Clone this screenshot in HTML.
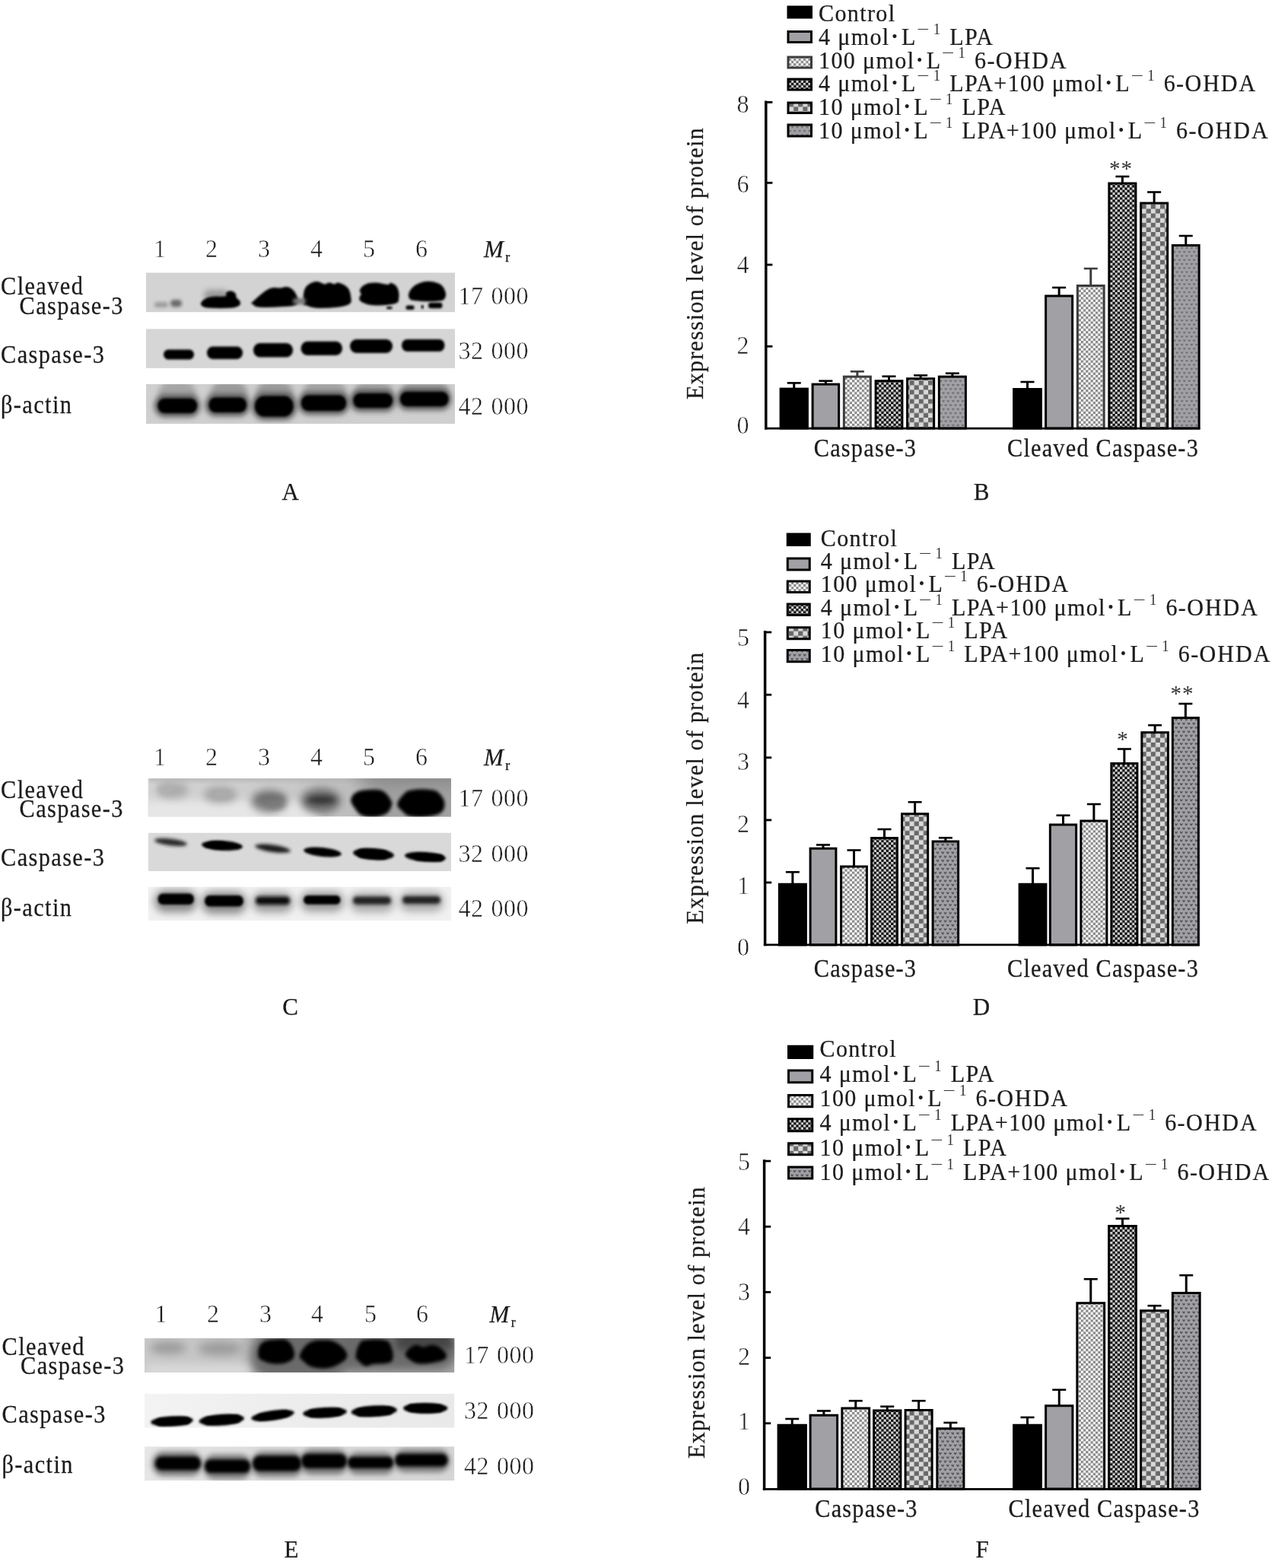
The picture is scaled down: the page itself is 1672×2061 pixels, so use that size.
<!DOCTYPE html>
<html lang="en"><head><meta charset="utf-8"><title>Figure</title>
<style>
html,body{margin:0;padding:0;background:#fff;}
body{width:1672px;height:2061px;overflow:hidden;}
svg{display:block;}
text{font-family:"Liberation Serif","Noto Serif CJK SC",serif;fill:#1c1c1c;}
.t{stroke:#1c1c1c;stroke-width:0.25px;}
.d{stroke:#fff;stroke-width:0.5px;paint-order:fill stroke;fill:#1c1c1c;}
.s{fill:#333;stroke:none;}
.i{font-style:italic;}
</style></head><body>
<svg width="1672" height="2061" viewBox="0 0 1672 2061">
<defs>
<pattern id="p3" width="6.4" height="6.4" patternUnits="userSpaceOnUse"><rect width="6.4" height="6.4" fill="#fff"/><rect x="0" y="0" width="3.2" height="3.2" fill="#858585"/><rect x="3.2" y="3.2" width="3.2" height="3.2" fill="#858585"/></pattern>
<pattern id="p4" width="6.4" height="6.4" patternUnits="userSpaceOnUse"><rect width="6.4" height="6.4" fill="#000"/><rect x="0" y="0" width="3.2" height="3.2" fill="#d4d4d4"/><rect x="3.2" y="3.2" width="3.2" height="3.2" fill="#d4d4d4"/></pattern>
<pattern id="p5" width="12.2" height="12.2" patternUnits="userSpaceOnUse"><rect width="12.2" height="12.2" fill="#d9d9d9"/><rect x="0" y="0" width="6.1" height="6.1" fill="#686868"/><rect x="6.1" y="6.1" width="6.1" height="6.1" fill="#686868"/></pattern>
<pattern id="p6" width="6.4" height="10.6" patternUnits="userSpaceOnUse"><rect width="6.4" height="10.6" fill="#a1a1a5"/><path d="M0.2 1.6 L1.6 3.2 L3 1.6 M3.4 6.9 L4.8 8.5 L6.2 6.9" fill="none" stroke="#5c5c61" stroke-width="1.15"/></pattern>
<pattern id="p6d" width="6.6" height="10.6" patternUnits="userSpaceOnUse"><rect width="6.6" height="10.6" fill="#a1a1a5"/><path d="M0.1 1.4 L1.7 3.3 L3.3 1.4 M3.4 6.7 L5 8.6 L6.6 6.7" fill="none" stroke="#3e3e42" stroke-width="1.25"/></pattern>
<filter id="b1" x="-20%" y="-50%" width="140%" height="200%"><feGaussianBlur stdDeviation="1.5"/></filter>
<filter id="b2" x="-20%" y="-50%" width="140%" height="200%"><feGaussianBlur stdDeviation="2.2"/></filter>
<filter id="b3" x="-20%" y="-50%" width="140%" height="200%"><feGaussianBlur stdDeviation="3.5"/></filter>
<filter id="b9" x="-40%" y="-150%" width="180%" height="400%"><feGaussianBlur stdDeviation="11"/></filter>
<filter id="b5" x="-30%" y="-80%" width="160%" height="260%"><feGaussianBlur stdDeviation="5.5"/></filter>
</defs>
<rect width="1672" height="2061" fill="#fff"/>

<rect x="1036.0" y="9.0" width="30.5" height="14.0" fill="#000" stroke="#000" stroke-width="3"/>
<text transform="translate(1076 27.5) scale(0.94 1)" class="t" font-size="32" letter-spacing="1.44" text-anchor="start" >Control</text>
<rect x="1036.0" y="41.5" width="30.5" height="14" fill="#a1a1a5" stroke="#000" stroke-width="3"/>
<text transform="translate(1076 59.25) scale(0.94 1)" class="t" font-size="32" letter-spacing="1.44" text-anchor="start" >4 μmol<tspan font-size="21" dx="3" dy="-4">•</tspan><tspan dx="4.5" dy="4">L</tspan><tspan dy="-14" dx="0.5" font-size="20" class="s" textLength="20" lengthAdjust="spacingAndGlyphs">−</tspan><tspan font-size="20" class="s" dx="3">1</tspan><tspan dy="14" dx="2"> </tspan>LPA</text>
<rect x="1036.0" y="75.0" width="30.5" height="14.0" fill="url(#p3)" stroke="#3c3c3c" stroke-width="3"/>
<text transform="translate(1076 90.0) scale(0.94 1)" class="t" font-size="32" letter-spacing="1.44" text-anchor="start" >100 μmol<tspan font-size="21" dx="3" dy="-4">•</tspan><tspan dx="4.5" dy="4">L</tspan><tspan dy="-14" dx="0.5" font-size="20" class="s" textLength="20" lengthAdjust="spacingAndGlyphs">−</tspan><tspan font-size="20" class="s" dx="3">1</tspan><tspan dy="14" dx="2"> </tspan>6-<tspan letter-spacing="2.1">OHDA</tspan></text>
<rect x="1036.0" y="104.0" width="30.5" height="14.0" fill="url(#p4)" stroke="#000" stroke-width="3"/>
<text transform="translate(1076 120.0) scale(0.94 1)" class="t" font-size="32" letter-spacing="1.44" text-anchor="start" >4 μmol<tspan font-size="21" dx="3" dy="-4">•</tspan><tspan dx="4.5" dy="4">L</tspan><tspan dy="-14" dx="0.5" font-size="20" class="s" textLength="20" lengthAdjust="spacingAndGlyphs">−</tspan><tspan font-size="20" class="s" dx="3">1</tspan><tspan dy="14" dx="2"> </tspan>LPA+100 μmol<tspan font-size="21" dx="3" dy="-4">•</tspan><tspan dx="4.5" dy="4">L</tspan><tspan dy="-14" dx="0.5" font-size="20" class="s" textLength="20" lengthAdjust="spacingAndGlyphs">−</tspan><tspan font-size="20" class="s" dx="3">1</tspan><tspan dy="14" dx="2"> </tspan>6-<tspan letter-spacing="2.1">OHDA</tspan></text>
<rect x="1036.0" y="135.0" width="30.5" height="13.5" fill="url(#p5)" stroke="#000" stroke-width="3"/>
<text transform="translate(1076 151.25) scale(0.94 1)" class="t" font-size="32" letter-spacing="1.44" text-anchor="start" >10 μmol<tspan font-size="21" dx="3" dy="-4">•</tspan><tspan dx="4.5" dy="4">L</tspan><tspan dy="-14" dx="0.5" font-size="20" class="s" textLength="20" lengthAdjust="spacingAndGlyphs">−</tspan><tspan font-size="20" class="s" dx="3">1</tspan><tspan dy="14" dx="2"> </tspan>LPA</text>
<rect x="1036.0" y="164.0" width="30.5" height="15.0" fill="url(#p6)" stroke="#000" stroke-width="3"/>
<text transform="translate(1076 181.75) scale(0.94 1)" class="t" font-size="32" letter-spacing="1.44" text-anchor="start" >10 μmol<tspan font-size="21" dx="3" dy="-4">•</tspan><tspan dx="4.5" dy="4">L</tspan><tspan dy="-14" dx="0.5" font-size="20" class="s" textLength="20" lengthAdjust="spacingAndGlyphs">−</tspan><tspan font-size="20" class="s" dx="3">1</tspan><tspan dy="14" dx="2"> </tspan>LPA+100 μmol<tspan font-size="21" dx="3" dy="-4">•</tspan><tspan dx="4.5" dy="4">L</tspan><tspan dy="-14" dx="0.5" font-size="20" class="s" textLength="20" lengthAdjust="spacingAndGlyphs">−</tspan><tspan font-size="20" class="s" dx="3">1</tspan><tspan dy="14" dx="2"> </tspan>6-<tspan letter-spacing="2.1">OHDA</tspan></text>
<rect x="1026.1" y="511.1" width="35.30000000000018" height="51.89999999999998" fill="#000" stroke="#000" stroke-width="3"/>
<path d="M1043.75 510.6 V503.4" stroke="#000" stroke-width="3" fill="none"/><path d="M1034.75 503.4 H1052.75" stroke="#000" stroke-width="2.6" fill="none"/>
<rect x="1068.1" y="505.1" width="34.55000000000018" height="57.89999999999998" fill="#a1a1a5" stroke="#000" stroke-width="3"/>
<path d="M1085.375 504.6 V500.7" stroke="#000" stroke-width="3" fill="none"/><path d="M1076.375 500.7 H1094.375" stroke="#000" stroke-width="2.6" fill="none"/>
<rect x="1109.35" y="495.1" width="35.05000000000018" height="67.89999999999998" fill="url(#p3)" stroke="#3c3c3c" stroke-width="3"/>
<path d="M1126.875 494.6 V488.3" stroke="#3c3c3c" stroke-width="3" fill="none"/><path d="M1117.875 488.3 H1135.875" stroke="#3c3c3c" stroke-width="2.6" fill="none"/>
<rect x="1151.1" y="500.7" width="34.80000000000018" height="62.30000000000001" fill="url(#p4)" stroke="#000" stroke-width="3"/>
<path d="M1168.5 500.2 V494.7" stroke="#000" stroke-width="3" fill="none"/><path d="M1159.5 494.7 H1177.5" stroke="#000" stroke-width="2.6" fill="none"/>
<rect x="1192.6" y="497.7" width="35.05000000000018" height="65.30000000000001" fill="url(#p5)" stroke="#000" stroke-width="3"/>
<path d="M1210.125 497.2 V493.4" stroke="#000" stroke-width="3" fill="none"/><path d="M1201.125 493.4 H1219.125" stroke="#000" stroke-width="2.6" fill="none"/>
<rect x="1234.35" y="495.1" width="35.05000000000018" height="67.89999999999998" fill="url(#p6)" stroke="#000" stroke-width="3"/>
<path d="M1251.875 494.6 V490.7" stroke="#000" stroke-width="3" fill="none"/><path d="M1242.875 490.7 H1260.875" stroke="#000" stroke-width="2.6" fill="none"/>
<rect x="1332.6" y="511.5" width="35.80000000000018" height="51.5" fill="#000" stroke="#000" stroke-width="3"/>
<path d="M1350.5 511 V502" stroke="#000" stroke-width="3" fill="none"/><path d="M1341.5 502 H1359.5" stroke="#000" stroke-width="2.6" fill="none"/>
<rect x="1374.6" y="389.0" width="35.05000000000018" height="174.0" fill="#a1a1a5" stroke="#000" stroke-width="3"/>
<path d="M1392.125 388.5 V378" stroke="#000" stroke-width="3" fill="none"/><path d="M1383.125 378 H1401.125" stroke="#000" stroke-width="2.6" fill="none"/>
<rect x="1416.35" y="375.5" width="34.80000000000018" height="187.5" fill="url(#p3)" stroke="#3c3c3c" stroke-width="3"/>
<path d="M1433.75 375 V353" stroke="#3c3c3c" stroke-width="3" fill="none"/><path d="M1424.75 353 H1442.75" stroke="#3c3c3c" stroke-width="2.6" fill="none"/>
<rect x="1457.85" y="241.0" width="35.05000000000018" height="322.0" fill="url(#p4)" stroke="#000" stroke-width="3"/>
<path d="M1475.375 240.5 V232" stroke="#000" stroke-width="3" fill="none"/><path d="M1466.375 232 H1484.375" stroke="#000" stroke-width="2.6" fill="none"/>
<rect x="1499.6" y="267.0" width="35.05000000000018" height="296.0" fill="url(#p5)" stroke="#000" stroke-width="3"/>
<path d="M1517.125 266.5 V252.5" stroke="#000" stroke-width="3" fill="none"/><path d="M1508.125 252.5 H1526.125" stroke="#000" stroke-width="2.6" fill="none"/>
<rect x="1541.35" y="322.5" width="34.80000000000018" height="240.5" fill="url(#p6)" stroke="#000" stroke-width="3"/>
<path d="M1558.75 322 V310" stroke="#000" stroke-width="3" fill="none"/><path d="M1549.75 310 H1567.75" stroke="#000" stroke-width="2.6" fill="none"/>
<path d="M1006.8 132.5 V564.6" stroke="#000" stroke-width="3.5" fill="none"/><path d="M1005.05 563.2 H1577.3" stroke="#000" stroke-width="2.8" fill="none"/>
<text transform="translate(976.5 570.3) scale(0.93 1)" class="d" font-size="34.5" letter-spacing="0.00" text-anchor="middle" >0</text>
<path d="M1006.8 455.3 H1015.4" stroke="#000" stroke-width="2.8" fill="none"/>
<text transform="translate(976.5 464.5) scale(0.93 1)" class="d" font-size="34.5" letter-spacing="0.00" text-anchor="middle" >2</text>
<path d="M1006.8 348 H1015.4" stroke="#000" stroke-width="2.8" fill="none"/>
<text transform="translate(976.5 358.8) scale(0.93 1)" class="d" font-size="34.5" letter-spacing="0.00" text-anchor="middle" >4</text>
<path d="M1006.8 240.3 H1015.4" stroke="#000" stroke-width="2.8" fill="none"/>
<text transform="translate(976.5 253.2) scale(0.93 1)" class="d" font-size="34.5" letter-spacing="0.00" text-anchor="middle" >6</text>
<path d="M1006.8 134.4 H1015.4" stroke="#000" stroke-width="2.8" fill="none"/>
<text transform="translate(976.5 148.3) scale(0.93 1)" class="d" font-size="34.5" letter-spacing="0.00" text-anchor="middle" >8</text>
<text transform="translate(923.9 346.2) rotate(-90)" class="t" font-size="30.5" letter-spacing="1.05" text-anchor="middle">Expression level of protein</text>
<text transform="translate(1137.5 600) scale(0.92 1)" class="t" font-size="33" letter-spacing="1.30" text-anchor="middle" >Caspase-3</text>
<text transform="translate(1450 600) scale(0.92 1)" class="t" font-size="33" letter-spacing="1.30" text-anchor="middle" >Cleaved Caspase-3</text>
<text transform="translate(1473.5 231.4) scale(1 1)" class="s" font-size="29" letter-spacing="1.00" text-anchor="middle" >**</text>
<rect x="1035.25" y="702.0" width="29.0" height="14.5" fill="#000" stroke="#000" stroke-width="3"/>
<text transform="translate(1078.75 717.5) scale(0.94 1)" class="t" font-size="32" letter-spacing="1.44" text-anchor="start" >Control</text>
<rect x="1035.25" y="734.0" width="29.0" height="15.0" fill="#a1a1a5" stroke="#000" stroke-width="3"/>
<text transform="translate(1078.75 747.5) scale(0.94 1)" class="t" font-size="32" letter-spacing="1.44" text-anchor="start" >4 μmol<tspan font-size="21" dx="3" dy="-4">•</tspan><tspan dx="4.5" dy="4">L</tspan><tspan dy="-14" dx="0.5" font-size="20" class="s" textLength="20" lengthAdjust="spacingAndGlyphs">−</tspan><tspan font-size="20" class="s" dx="3">1</tspan><tspan dy="14" dx="2"> </tspan>LPA</text>
<rect x="1035.25" y="764.0" width="29.0" height="14.5" fill="url(#p3)" stroke="#000" stroke-width="3"/>
<text transform="translate(1078.75 778.0) scale(0.94 1)" class="t" font-size="32" letter-spacing="1.44" text-anchor="start" >100 μmol<tspan font-size="21" dx="3" dy="-4">•</tspan><tspan dx="4.5" dy="4">L</tspan><tspan dy="-14" dx="0.5" font-size="20" class="s" textLength="20" lengthAdjust="spacingAndGlyphs">−</tspan><tspan font-size="20" class="s" dx="3">1</tspan><tspan dy="14" dx="2"> </tspan>6-<tspan letter-spacing="2.1">OHDA</tspan></text>
<rect x="1035.25" y="794.0" width="29.0" height="14.5" fill="url(#p4)" stroke="#000" stroke-width="3"/>
<text transform="translate(1078.75 808.5) scale(0.94 1)" class="t" font-size="32" letter-spacing="1.44" text-anchor="start" >4 μmol<tspan font-size="21" dx="3" dy="-4">•</tspan><tspan dx="4.5" dy="4">L</tspan><tspan dy="-14" dx="0.5" font-size="20" class="s" textLength="20" lengthAdjust="spacingAndGlyphs">−</tspan><tspan font-size="20" class="s" dx="3">1</tspan><tspan dy="14" dx="2"> </tspan>LPA+100 μmol<tspan font-size="21" dx="3" dy="-4">•</tspan><tspan dx="4.5" dy="4">L</tspan><tspan dy="-14" dx="0.5" font-size="20" class="s" textLength="20" lengthAdjust="spacingAndGlyphs">−</tspan><tspan font-size="20" class="s" dx="3">1</tspan><tspan dy="14" dx="2"> </tspan>6-<tspan letter-spacing="2.1">OHDA</tspan></text>
<rect x="1035.25" y="824.75" width="29.0" height="15.0" fill="url(#p5)" stroke="#000" stroke-width="3"/>
<text transform="translate(1078.75 839.25) scale(0.94 1)" class="t" font-size="32" letter-spacing="1.44" text-anchor="start" >10 μmol<tspan font-size="21" dx="3" dy="-4">•</tspan><tspan dx="4.5" dy="4">L</tspan><tspan dy="-14" dx="0.5" font-size="20" class="s" textLength="20" lengthAdjust="spacingAndGlyphs">−</tspan><tspan font-size="20" class="s" dx="3">1</tspan><tspan dy="14" dx="2"> </tspan>LPA</text>
<rect x="1035.25" y="854.5" width="29.0" height="15.25" fill="url(#p6d)" stroke="#000" stroke-width="3"/>
<text transform="translate(1078.75 870.0) scale(0.94 1)" class="t" font-size="32" letter-spacing="1.44" text-anchor="start" >10 μmol<tspan font-size="21" dx="3" dy="-4">•</tspan><tspan dx="4.5" dy="4">L</tspan><tspan dy="-14" dx="0.5" font-size="20" class="s" textLength="20" lengthAdjust="spacingAndGlyphs">−</tspan><tspan font-size="20" class="s" dx="3">1</tspan><tspan dy="14" dx="2"> </tspan>LPA+100 μmol<tspan font-size="21" dx="3" dy="-4">•</tspan><tspan dx="4.5" dy="4">L</tspan><tspan dy="-14" dx="0.5" font-size="20" class="s" textLength="20" lengthAdjust="spacingAndGlyphs">−</tspan><tspan font-size="20" class="s" dx="3">1</tspan><tspan dy="14" dx="2"> </tspan>6-<tspan letter-spacing="2.1">OHDA</tspan></text>
<rect x="1024.35" y="1162.25" width="35.05000000000007" height="79.75" fill="#000" stroke="#000" stroke-width="3"/>
<path d="M1041.875 1161.75 V1146.25" stroke="#000" stroke-width="3" fill="none"/><path d="M1032.875 1146.25 H1050.875" stroke="#000" stroke-width="2.6" fill="none"/>
<rect x="1065.1" y="1115.25" width="33.80000000000018" height="126.75" fill="#a1a1a5" stroke="#000" stroke-width="3"/>
<path d="M1082.0 1114.75 V1110.5" stroke="#000" stroke-width="3" fill="none"/><path d="M1073.0 1110.5 H1091.0" stroke="#000" stroke-width="2.6" fill="none"/>
<rect x="1105.6" y="1139.0" width="33.80000000000018" height="103.0" fill="url(#p3)" stroke="#000" stroke-width="3"/>
<path d="M1122.5 1138.5 V1117.5" stroke="#000" stroke-width="3" fill="none"/><path d="M1113.5 1117.5 H1131.5" stroke="#000" stroke-width="2.6" fill="none"/>
<rect x="1145.6" y="1101.5" width="33.80000000000018" height="140.5" fill="url(#p4)" stroke="#000" stroke-width="3"/>
<path d="M1162.5 1101 V1090" stroke="#000" stroke-width="3" fill="none"/><path d="M1153.5 1090 H1171.5" stroke="#000" stroke-width="2.6" fill="none"/>
<rect x="1185.6" y="1069.75" width="34.05000000000018" height="172.25" fill="url(#p5)" stroke="#000" stroke-width="3"/>
<path d="M1202.625 1069.25 V1054.25" stroke="#000" stroke-width="3" fill="none"/><path d="M1193.625 1054.25 H1211.625" stroke="#000" stroke-width="2.6" fill="none"/>
<rect x="1226.1" y="1106.0" width="33.55000000000018" height="136.0" fill="url(#p6d)" stroke="#000" stroke-width="3"/>
<path d="M1242.875 1105.5 V1101.25" stroke="#000" stroke-width="3" fill="none"/><path d="M1233.875 1101.25 H1251.875" stroke="#000" stroke-width="2.6" fill="none"/>
<rect x="1340.1" y="1162.25" width="34.80000000000018" height="79.75" fill="#000" stroke="#000" stroke-width="3"/>
<path d="M1357.5 1161.75 V1141.25" stroke="#000" stroke-width="3" fill="none"/><path d="M1348.5 1141.25 H1366.5" stroke="#000" stroke-width="2.6" fill="none"/>
<rect x="1380.35" y="1084.0" width="34.30000000000018" height="158.0" fill="#a1a1a5" stroke="#000" stroke-width="3"/>
<path d="M1397.5 1083.5 V1071.75" stroke="#000" stroke-width="3" fill="none"/><path d="M1388.5 1071.75 H1406.5" stroke="#000" stroke-width="2.6" fill="none"/>
<rect x="1420.85" y="1079.0" width="34.05000000000018" height="163.0" fill="url(#p3)" stroke="#000" stroke-width="3"/>
<path d="M1437.875 1078.5 V1057" stroke="#000" stroke-width="3" fill="none"/><path d="M1428.875 1057 H1446.875" stroke="#000" stroke-width="2.6" fill="none"/>
<rect x="1460.85" y="1003.5" width="34.05000000000018" height="238.5" fill="url(#p4)" stroke="#000" stroke-width="3"/>
<path d="M1477.875 1003 V984.5" stroke="#000" stroke-width="3" fill="none"/><path d="M1468.875 984.5 H1486.875" stroke="#000" stroke-width="2.6" fill="none"/>
<rect x="1500.85" y="962.75" width="34.55000000000018" height="279.25" fill="url(#p5)" stroke="#000" stroke-width="3"/>
<path d="M1518.125 962.25 V953.25" stroke="#000" stroke-width="3" fill="none"/><path d="M1509.125 953.25 H1527.125" stroke="#000" stroke-width="2.6" fill="none"/>
<rect x="1541.35" y="943.5" width="34.05000000000018" height="298.5" fill="url(#p6d)" stroke="#000" stroke-width="3"/>
<path d="M1558.375 943 V925" stroke="#000" stroke-width="3" fill="none"/><path d="M1549.375 925 H1567.375" stroke="#000" stroke-width="2.6" fill="none"/>
<path d="M1005.6 829.1 V1243.3000000000002" stroke="#000" stroke-width="3.5" fill="none"/><path d="M1003.85 1241.9 H1576.5" stroke="#000" stroke-width="2.8" fill="none"/>
<text transform="translate(977 1256) scale(0.93 1)" class="d" font-size="34.5" letter-spacing="0.00" text-anchor="middle" >0</text>
<path d="M1005.6 1160 H1014.2" stroke="#000" stroke-width="2.8" fill="none"/>
<text transform="translate(977 1175) scale(0.93 1)" class="d" font-size="34.5" letter-spacing="0.00" text-anchor="middle" >1</text>
<path d="M1005.6 1077.9 H1014.2" stroke="#000" stroke-width="2.8" fill="none"/>
<text transform="translate(977 1093.7) scale(0.93 1)" class="d" font-size="34.5" letter-spacing="0.00" text-anchor="middle" >2</text>
<path d="M1005.6 995.8 H1014.2" stroke="#000" stroke-width="2.8" fill="none"/>
<text transform="translate(977 1012.3) scale(0.93 1)" class="d" font-size="34.5" letter-spacing="0.00" text-anchor="middle" >3</text>
<path d="M1005.6 913.2 H1014.2" stroke="#000" stroke-width="2.8" fill="none"/>
<text transform="translate(977 930.9) scale(0.93 1)" class="d" font-size="34.5" letter-spacing="0.00" text-anchor="middle" >4</text>
<path d="M1005.6 831 H1014.2" stroke="#000" stroke-width="2.8" fill="none"/>
<text transform="translate(977 849.3) scale(0.93 1)" class="d" font-size="34.5" letter-spacing="0.00" text-anchor="middle" >5</text>
<text transform="translate(923.9 1035.5) rotate(-90)" class="t" font-size="30.5" letter-spacing="1.05" text-anchor="middle">Expression level of protein</text>
<text transform="translate(1137.5 1283.75) scale(0.92 1)" class="t" font-size="33" letter-spacing="1.30" text-anchor="middle" >Caspase-3</text>
<text transform="translate(1450 1283.75) scale(0.92 1)" class="t" font-size="33" letter-spacing="1.30" text-anchor="middle" >Cleaved Caspase-3</text>
<text transform="translate(1476 981.4) scale(1 1)" class="s" font-size="29" letter-spacing="1.00" text-anchor="middle" >*</text>
<text transform="translate(1554 921.4) scale(1 1)" class="s" font-size="29" letter-spacing="1.00" text-anchor="middle" >**</text>
<rect x="1036.5" y="1375.25" width="31.25" height="15.25" fill="#000" stroke="#000" stroke-width="3"/>
<text transform="translate(1077.5 1388.75) scale(0.94 1)" class="t" font-size="32" letter-spacing="1.44" text-anchor="start" >Control</text>
<rect x="1036.5" y="1407.0" width="31.25" height="15.75" fill="#a1a1a5" stroke="#000" stroke-width="3"/>
<text transform="translate(1077.5 1421.75) scale(0.94 1)" class="t" font-size="32" letter-spacing="1.44" text-anchor="start" >4 μmol<tspan font-size="21" dx="3" dy="-4">•</tspan><tspan dx="4.5" dy="4">L</tspan><tspan dy="-14" dx="0.5" font-size="20" class="s" textLength="20" lengthAdjust="spacingAndGlyphs">−</tspan><tspan font-size="20" class="s" dx="3">1</tspan><tspan dy="14" dx="2"> </tspan>LPA</text>
<rect x="1036.5" y="1439.5" width="31.25" height="15.25" fill="url(#p3)" stroke="#000" stroke-width="3"/>
<text transform="translate(1077.5 1453.75) scale(0.94 1)" class="t" font-size="32" letter-spacing="1.44" text-anchor="start" >100 μmol<tspan font-size="21" dx="3" dy="-4">•</tspan><tspan dx="4.5" dy="4">L</tspan><tspan dy="-14" dx="0.5" font-size="20" class="s" textLength="20" lengthAdjust="spacingAndGlyphs">−</tspan><tspan font-size="20" class="s" dx="3">1</tspan><tspan dy="14" dx="2"> </tspan>6-<tspan letter-spacing="2.1">OHDA</tspan></text>
<rect x="1036.5" y="1470.75" width="31.25" height="16.0" fill="url(#p4)" stroke="#000" stroke-width="3"/>
<text transform="translate(1077.5 1485.5) scale(0.94 1)" class="t" font-size="32" letter-spacing="1.44" text-anchor="start" >4 μmol<tspan font-size="21" dx="3" dy="-4">•</tspan><tspan dx="4.5" dy="4">L</tspan><tspan dy="-14" dx="0.5" font-size="20" class="s" textLength="20" lengthAdjust="spacingAndGlyphs">−</tspan><tspan font-size="20" class="s" dx="3">1</tspan><tspan dy="14" dx="2"> </tspan>LPA+100 μmol<tspan font-size="21" dx="3" dy="-4">•</tspan><tspan dx="4.5" dy="4">L</tspan><tspan dy="-14" dx="0.5" font-size="20" class="s" textLength="20" lengthAdjust="spacingAndGlyphs">−</tspan><tspan font-size="20" class="s" dx="3">1</tspan><tspan dy="14" dx="2"> </tspan>6-<tspan letter-spacing="2.1">OHDA</tspan></text>
<rect x="1036.5" y="1502.75" width="31.25" height="15.0" fill="url(#p5)" stroke="#000" stroke-width="3"/>
<text transform="translate(1077.5 1518.5) scale(0.94 1)" class="t" font-size="32" letter-spacing="1.44" text-anchor="start" >10 μmol<tspan font-size="21" dx="3" dy="-4">•</tspan><tspan dx="4.5" dy="4">L</tspan><tspan dy="-14" dx="0.5" font-size="20" class="s" textLength="20" lengthAdjust="spacingAndGlyphs">−</tspan><tspan font-size="20" class="s" dx="3">1</tspan><tspan dy="14" dx="2"> </tspan>LPA</text>
<rect x="1036.5" y="1534.0" width="31.25" height="15.0" fill="url(#p6d)" stroke="#000" stroke-width="3"/>
<text transform="translate(1077.5 1551.0) scale(0.94 1)" class="t" font-size="32" letter-spacing="1.44" text-anchor="start" >10 μmol<tspan font-size="21" dx="3" dy="-4">•</tspan><tspan dx="4.5" dy="4">L</tspan><tspan dy="-14" dx="0.5" font-size="20" class="s" textLength="20" lengthAdjust="spacingAndGlyphs">−</tspan><tspan font-size="20" class="s" dx="3">1</tspan><tspan dy="14" dx="2"> </tspan>LPA+100 μmol<tspan font-size="21" dx="3" dy="-4">•</tspan><tspan dx="4.5" dy="4">L</tspan><tspan dy="-14" dx="0.5" font-size="20" class="s" textLength="20" lengthAdjust="spacingAndGlyphs">−</tspan><tspan font-size="20" class="s" dx="3">1</tspan><tspan dy="14" dx="2"> </tspan>6-<tspan letter-spacing="2.1">OHDA</tspan></text>
<rect x="1023.1" y="1873.25" width="36.30000000000007" height="83.75" fill="#000" stroke="#000" stroke-width="3"/>
<path d="M1041.25 1872.75 V1865" stroke="#000" stroke-width="3" fill="none"/><path d="M1032.25 1865 H1050.25" stroke="#000" stroke-width="2.6" fill="none"/>
<rect x="1065.1" y="1860.25" width="35.55000000000018" height="96.75" fill="#a1a1a5" stroke="#000" stroke-width="3"/>
<path d="M1082.875 1859.75 V1854.5" stroke="#000" stroke-width="3" fill="none"/><path d="M1073.875 1854.5 H1091.875" stroke="#000" stroke-width="2.6" fill="none"/>
<rect x="1106.85" y="1851.0" width="35.80000000000018" height="106.0" fill="url(#p3)" stroke="#000" stroke-width="3"/>
<path d="M1124.75 1850.5 V1841.25" stroke="#000" stroke-width="3" fill="none"/><path d="M1115.75 1841.25 H1133.75" stroke="#000" stroke-width="2.6" fill="none"/>
<rect x="1148.6" y="1854.0" width="35.30000000000018" height="103.0" fill="url(#p4)" stroke="#000" stroke-width="3"/>
<path d="M1166.25 1853.5 V1848.75" stroke="#000" stroke-width="3" fill="none"/><path d="M1157.25 1848.75 H1175.25" stroke="#000" stroke-width="2.6" fill="none"/>
<rect x="1190.1" y="1853.5" width="35.05000000000018" height="103.5" fill="url(#p5)" stroke="#000" stroke-width="3"/>
<path d="M1207.625 1853 V1841.25" stroke="#000" stroke-width="3" fill="none"/><path d="M1198.625 1841.25 H1216.625" stroke="#000" stroke-width="2.6" fill="none"/>
<rect x="1231.85" y="1877.75" width="35.05000000000018" height="79.25" fill="url(#p6d)" stroke="#000" stroke-width="3"/>
<path d="M1249.375 1877.25 V1870" stroke="#000" stroke-width="3" fill="none"/><path d="M1240.375 1870 H1258.375" stroke="#000" stroke-width="2.6" fill="none"/>
<rect x="1332.6" y="1873.25" width="35.80000000000018" height="83.75" fill="#000" stroke="#000" stroke-width="3"/>
<path d="M1350.5 1872.75 V1863" stroke="#000" stroke-width="3" fill="none"/><path d="M1341.5 1863 H1359.5" stroke="#000" stroke-width="2.6" fill="none"/>
<rect x="1374.6" y="1847.75" width="35.30000000000018" height="109.25" fill="#a1a1a5" stroke="#000" stroke-width="3"/>
<path d="M1392.25 1847.25 V1826.75" stroke="#000" stroke-width="3" fill="none"/><path d="M1383.25 1826.75 H1401.25" stroke="#000" stroke-width="2.6" fill="none"/>
<rect x="1415.85" y="1712.75" width="35.80000000000018" height="244.25" fill="url(#p3)" stroke="#000" stroke-width="3"/>
<path d="M1433.75 1712.25 V1681.25" stroke="#000" stroke-width="3" fill="none"/><path d="M1424.75 1681.25 H1442.75" stroke="#000" stroke-width="2.6" fill="none"/>
<rect x="1457.6" y="1611.5" width="35.80000000000018" height="345.5" fill="url(#p4)" stroke="#000" stroke-width="3"/>
<path d="M1475.5 1611 V1601.75" stroke="#000" stroke-width="3" fill="none"/><path d="M1466.5 1601.75 H1484.5" stroke="#000" stroke-width="2.6" fill="none"/>
<rect x="1499.6" y="1722.75" width="35.80000000000018" height="234.25" fill="url(#p5)" stroke="#000" stroke-width="3"/>
<path d="M1517.5 1722.25 V1716.25" stroke="#000" stroke-width="3" fill="none"/><path d="M1508.5 1716.25 H1526.5" stroke="#000" stroke-width="2.6" fill="none"/>
<rect x="1541.35" y="1699.5" width="35.80000000000018" height="257.5" fill="url(#p6d)" stroke="#000" stroke-width="3"/>
<path d="M1559.25 1699 V1676.25" stroke="#000" stroke-width="3" fill="none"/><path d="M1550.25 1676.25 H1568.25" stroke="#000" stroke-width="2.6" fill="none"/>
<path d="M1004.6 1524.3 V1958.7" stroke="#000" stroke-width="3.5" fill="none"/><path d="M1002.85 1957.3 H1578.25" stroke="#000" stroke-width="2.8" fill="none"/>
<text transform="translate(978 1965) scale(0.93 1)" class="d" font-size="34.5" letter-spacing="0.00" text-anchor="middle" >0</text>
<path d="M1004.6 1870.8 H1013.2" stroke="#000" stroke-width="2.8" fill="none"/>
<text transform="translate(978 1879.3) scale(0.93 1)" class="d" font-size="34.5" letter-spacing="0.00" text-anchor="middle" >1</text>
<path d="M1004.6 1784.7 H1013.2" stroke="#000" stroke-width="2.8" fill="none"/>
<text transform="translate(978 1794) scale(0.93 1)" class="d" font-size="34.5" letter-spacing="0.00" text-anchor="middle" >2</text>
<path d="M1004.6 1698.4 H1013.2" stroke="#000" stroke-width="2.8" fill="none"/>
<text transform="translate(978 1709.4) scale(0.93 1)" class="d" font-size="34.5" letter-spacing="0.00" text-anchor="middle" >3</text>
<path d="M1004.6 1612.3 H1013.2" stroke="#000" stroke-width="2.8" fill="none"/>
<text transform="translate(978 1623) scale(0.93 1)" class="d" font-size="34.5" letter-spacing="0.00" text-anchor="middle" >4</text>
<path d="M1004.6 1526.1 H1013.2" stroke="#000" stroke-width="2.8" fill="none"/>
<text transform="translate(978 1538) scale(0.93 1)" class="d" font-size="34.5" letter-spacing="0.00" text-anchor="middle" >5</text>
<text transform="translate(925.8 1738.2) rotate(-90)" class="t" font-size="30.5" letter-spacing="1.05" text-anchor="middle">Expression level of protein</text>
<text transform="translate(1139 1993.75) scale(0.92 1)" class="t" font-size="33" letter-spacing="1.30" text-anchor="middle" >Caspase-3</text>
<text transform="translate(1451.5 1993.75) scale(0.92 1)" class="t" font-size="33" letter-spacing="1.30" text-anchor="middle" >Cleaved Caspase-3</text>
<text transform="translate(1473.25 1603.4) scale(1 1)" class="s" font-size="29" letter-spacing="1.00" text-anchor="middle" >*</text>
<clipPath id="c1"><rect x="192" y="358.3" width="406" height="52.099999999999966"/></clipPath>
<g clip-path="url(#c1)"><rect x="192" y="358.3" width="406" height="52.099999999999966" fill="#d3d3d3"/>
<rect x="203" y="397" width="18" height="7" rx="3.1" ry="3.5" fill="#9c9c9c" filter="url(#b2)"/>
<rect x="224" y="394" width="15" height="9.5" rx="4.3" ry="4.8" fill="#6a6a6a" filter="url(#b2)"/>
<rect x="268" y="381" width="32" height="14" rx="6.3" ry="7.0" fill="#9a9a9a" filter="url(#b3)"/>
<path d="M265.1 398.4C265.9 396.7 267.3 394.8 270.4 393.3C273.5 391.8 275.2 391.5 280.5 390.8C285.7 390.2 293.3 391.3 296.8 390.2C300.3 389.1 296.8 386.8 298.0 385.4C299.3 384.0 300.9 383.0 303.1 383.2C305.2 383.3 307.3 384.3 308.7 386.1C310.1 387.8 308.8 389.7 310.0 391.7C311.1 393.7 313.6 394.3 314.4 396.1C315.1 397.9 316.0 399.3 313.7 400.9C311.5 402.4 310.7 403.2 303.1 403.8C295.4 404.3 282.7 404.2 275.4 403.8C268.1 403.3 268.7 402.6 266.6 401.5C264.6 400.4 264.4 400.0 265.1 398.4Z" fill="#000" stroke="#000" stroke-width="2" stroke-linejoin="round" filter="url(#b1)"/>
<path d="M333.5 396.7C337.4 393.0 346.3 384.2 353.3 380.8C360.3 377.3 363.4 380.0 368.4 379.5C373.4 379.0 374.5 376.9 378.4 378.3C382.3 379.6 385.7 382.3 387.9 386.4C390.1 390.6 392.6 395.9 389.5 399.0C386.4 402.1 381.9 401.4 372.2 402.1C362.4 402.9 348.5 403.3 340.8 402.8C333.0 402.2 334.9 400.5 333.5 399.2C332.0 398.0 329.5 400.4 333.5 396.7Z" fill="#000" stroke="#000" stroke-width="2" stroke-linejoin="round" filter="url(#b1)"/>
<path d="M399.8 397.7C399.7 393.6 398.9 384.8 401.9 379.5C405.0 374.2 410.2 372.1 415.1 371.1C420.0 370.1 422.9 374.2 426.4 374.5C429.9 374.7 430.1 372.4 432.7 372.4C435.4 372.4 437.1 374.4 439.6 374.5C442.1 374.5 441.9 371.7 445.3 372.6C448.7 373.5 453.6 375.4 456.6 379.1C459.6 382.9 460.0 387.5 460.4 391.5C460.7 395.4 461.7 396.7 458.5 399.0C455.2 401.3 452.7 401.8 444.0 402.8C435.4 403.7 423.4 404.3 415.1 403.8C406.8 403.3 405.6 401.5 402.6 400.3C399.5 399.0 399.9 401.9 399.8 397.7Z" fill="#000" stroke="#000" stroke-width="2" stroke-linejoin="round" filter="url(#b1)"/>
<path d="M473.2 392.7C472.7 390.6 475.5 388.7 475.7 386.4C475.8 384.2 473.0 383.7 473.9 381.4C474.9 379.1 476.6 376.6 480.5 374.9C484.3 373.1 487.1 372.6 493.0 372.6C498.9 372.6 505.7 374.8 510.0 374.9C514.2 374.9 512.0 372.1 514.4 373.0C516.7 373.8 519.9 375.5 521.7 379.1C523.4 382.8 523.9 387.6 523.2 391.5C522.5 395.3 524.7 396.6 518.1 398.4C511.6 400.1 498.5 400.5 490.5 400.3C482.5 400.0 481.4 398.6 477.9 397.1C474.5 395.6 473.6 394.8 473.2 392.7Z" fill="#000" stroke="#000" stroke-width="2" stroke-linejoin="round" filter="url(#b1)"/>
<path d="M538.2 390.2C537.3 387.2 539.2 382.7 542.3 379.1C545.3 375.6 548.6 374.0 553.3 372.4C558.0 370.7 560.9 370.5 565.9 371.0C570.9 371.5 574.7 372.2 578.4 374.7C582.2 377.3 583.4 380.6 584.5 383.9C585.6 387.3 585.6 389.3 583.8 391.5C582.1 393.6 583.3 394.1 575.9 394.7C568.6 395.3 554.6 395.3 547.0 394.3C539.5 393.4 539.2 393.2 538.2 390.2Z" fill="#000" stroke="#000" stroke-width="2" stroke-linejoin="round" filter="url(#b1)"/>
<rect x="508" y="403" width="7.600000000000023" height="3.3000000000000114" rx="1.5" ry="1.7" fill="#000" filter="url(#b1)"/>
<rect x="533.5" y="401.5" width="11.0" height="5.5" rx="2.5" ry="2.8" fill="#000" filter="url(#b1)"/>
<rect x="553.5" y="401" width="3.5" height="4.800000000000011" rx="1.6" ry="1.8" fill="#000" filter="url(#b1)"/>
<rect x="563" y="397.8" width="18.5" height="7.399999999999977" rx="3.3" ry="3.7" fill="#000" filter="url(#b1)"/>
<rect x="385" y="392" width="17" height="8" rx="3.6" ry="4.0" fill="#777" filter="url(#b2)"/>
</g>
<clipPath id="c2"><rect x="192" y="432.2" width="406" height="51.69999999999999"/></clipPath>
<g clip-path="url(#c2)"><rect x="192" y="432.2" width="406" height="51.69999999999999" fill="#d6d6d6"/>
<rect x="215" y="459.5" width="40" height="13.0" rx="5.9" ry="6.5" fill="#000" filter="url(#b1)"/>
<rect x="272" y="455.5" width="47" height="16.5" rx="7.4" ry="8.2" fill="#000" filter="url(#b1)"/>
<rect x="333" y="451" width="52" height="18.5" rx="8.3" ry="9.2" fill="#000" filter="url(#b1)"/>
<rect x="395.5" y="448.75" width="54.5" height="18.25" rx="8.2" ry="9.1" fill="#000" filter="url(#b1)"/>
<rect x="460" y="446" width="56" height="18" rx="8.1" ry="9.0" fill="#000" filter="url(#b1)"/>
<rect x="528" y="446" width="56.5" height="16" rx="7.2" ry="8.0" fill="#000" filter="url(#b1)"/>
</g>
<clipPath id="c3"><rect x="192" y="505" width="406" height="52"/></clipPath>
<g clip-path="url(#c3)"><rect x="192" y="505" width="406" height="52" fill="#cfcfcf"/>
<rect x="208" y="500" width="50" height="40" rx="18.0" ry="20.0" fill="#a6a6a6" filter="url(#b3)"/>
<rect x="276" y="500" width="50" height="40" rx="18.0" ry="20.0" fill="#9c9c9c" filter="url(#b3)"/>
<rect x="336" y="500" width="50" height="40" rx="18.0" ry="20.0" fill="#9c9c9c" filter="url(#b3)"/>
<rect x="398" y="500" width="58" height="36" rx="16.2" ry="18.0" fill="#a6a6a6" filter="url(#b3)"/>
<rect x="466" y="500" width="50" height="32" rx="14.4" ry="16.0" fill="#a8a8a8" filter="url(#b3)"/>
<rect x="528" y="500" width="62" height="30" rx="13.5" ry="15.0" fill="#a8a8a8" filter="url(#b3)"/>
<rect x="203" y="519" width="60" height="29" rx="13.1" ry="14.5" fill="#555" filter="url(#b3)"/>
<rect x="270" y="518" width="58" height="29" rx="13.1" ry="14.5" fill="#555" filter="url(#b3)"/>
<rect x="331" y="516" width="59" height="36" rx="16.2" ry="18.0" fill="#555" filter="url(#b3)"/>
<rect x="392" y="515" width="67" height="30" rx="13.5" ry="15.0" fill="#555" filter="url(#b3)"/>
<rect x="460" y="512" width="60" height="29" rx="13.1" ry="14.5" fill="#555" filter="url(#b3)"/>
<rect x="522" y="510" width="71" height="29" rx="13.1" ry="14.5" fill="#555" filter="url(#b3)"/>
<rect x="207.5" y="523.75" width="51.5" height="19.25" rx="8.7" ry="9.6" fill="#000" filter="url(#b1)"/>
<rect x="274.5" y="522.5" width="49.5" height="19.5" rx="8.8" ry="9.8" fill="#000" filter="url(#b1)"/>
<rect x="335" y="520.5" width="50.5" height="27.0" rx="12.2" ry="13.5" fill="#000" filter="url(#b1)"/>
<rect x="396" y="519.5" width="59" height="20.5" rx="9.2" ry="10.2" fill="#000" filter="url(#b1)"/>
<rect x="464.5" y="517" width="51.5" height="19" rx="8.6" ry="9.5" fill="#000" filter="url(#b1)"/>
<rect x="526" y="515" width="63.5" height="19" rx="8.6" ry="9.5" fill="#000" filter="url(#b1)"/>
</g>
<text transform="translate(1 386.8) scale(0.92 1)" class="t" font-size="33" letter-spacing="1.52" text-anchor="start" >Cleaved</text>
<text transform="translate(25.5 412.6) scale(0.92 1)" class="t" font-size="33" letter-spacing="1.52" text-anchor="start" >Caspase-3</text>
<text transform="translate(1 476.8) scale(0.92 1)" class="t" font-size="33" letter-spacing="1.52" text-anchor="start" >Caspase-3</text>
<text transform="translate(1 542.7) scale(0.92 1)" class="t" font-size="33" letter-spacing="1.52" text-anchor="start" >β-actin</text>
<text transform="translate(210 338) scale(0.93 1)" class="d" font-size="34.5" letter-spacing="0.00" text-anchor="middle" >1</text>
<text transform="translate(278 338) scale(0.93 1)" class="d" font-size="34.5" letter-spacing="0.00" text-anchor="middle" >2</text>
<text transform="translate(347 338) scale(0.93 1)" class="d" font-size="34.5" letter-spacing="0.00" text-anchor="middle" >3</text>
<text transform="translate(416 338) scale(0.93 1)" class="d" font-size="34.5" letter-spacing="0.00" text-anchor="middle" >4</text>
<text transform="translate(485 338) scale(0.93 1)" class="d" font-size="34.5" letter-spacing="0.00" text-anchor="middle" >5</text>
<text transform="translate(554 338) scale(0.93 1)" class="d" font-size="34.5" letter-spacing="0.00" text-anchor="middle" >6</text>
<text x="636" y="338" class="t" font-size="31" letter-spacing="0"><tspan class="i">M</tspan><tspan font-size="18" dy="5.5" dx="2.5">r</tspan></text>
<text transform="translate(602.5 399.5) scale(0.93 1)" class="d" font-size="34.5" letter-spacing="0.48" text-anchor="start" >17  000</text>
<text transform="translate(602.5 472) scale(0.93 1)" class="d" font-size="34.5" letter-spacing="0.48" text-anchor="start" >32  000</text>
<text transform="translate(602.5 545) scale(0.93 1)" class="d" font-size="34.5" letter-spacing="0.48" text-anchor="start" >42  000</text>
<clipPath id="c4"><rect x="194.6" y="1023.2" width="398.4" height="50.299999999999955"/></clipPath>
<linearGradient id="g4" x1="0" x2="1" y1="0" y2="0"><stop offset="0" stop-color="#d4d4d4"/><stop offset="0.4" stop-color="#cdcdcd"/><stop offset="0.7" stop-color="#bcbcbc"/><stop offset="1" stop-color="#b4b4b4"/></linearGradient>
<g clip-path="url(#c4)"><rect x="194.6" y="1023.2" width="398.4" height="50.299999999999955" fill="url(#g4)"/>
<rect x="180" y="1052" width="240" height="46" rx="20.7" ry="23.0" fill="#e6e6e6" filter="url(#b5)"/>
<rect x="194" y="1016" width="399" height="10" rx="4.5" ry="5.0" fill="#b0b0b0" filter="url(#b3)"/>
<rect x="478" y="1012" width="162" height="83" rx="37.4" ry="41.5" fill="#a2a2a2" filter="url(#b9)"/>
<rect x="470" y="1000" width="170" height="30" rx="13.5" ry="15.0" fill="#858585" filter="url(#b9)"/>
<ellipse cx="227.0" cy="1038.5" rx="21.0" ry="10.5" fill="#aaaaaa" filter="url(#b5)"/>
<ellipse cx="218.0" cy="1037.0" rx="10.0" ry="7.0" fill="#b0b0b0" filter="url(#b3)"/>
<ellipse cx="289.5" cy="1044.5" rx="21.5" ry="10.5" fill="#a2a2a2" filter="url(#b5)"/>
<ellipse cx="291.5" cy="1044.5" rx="13.5" ry="4.5" fill="#adadad" filter="url(#b3)"/>
<ellipse cx="354.0" cy="1053.0" rx="24.0" ry="15.0" fill="#7c7c7c" filter="url(#b5)"/>
<ellipse cx="356.0" cy="1050.0" rx="18.0" ry="5.0" fill="#707070" filter="url(#b3)"/>
<ellipse cx="362.0" cy="1057.5" rx="12.0" ry="4.5" fill="#7a7a7a" filter="url(#b3)"/>
<ellipse cx="421.5" cy="1052.5" rx="26.5" ry="16.5" fill="#6a6a6a" filter="url(#b5)"/>
<ellipse cx="422.5" cy="1051.5" rx="18.5" ry="5.0" fill="#333" filter="url(#b3)"/>
<path d="M462.2 1051.4C462.7 1047.2 465.3 1043.9 470.4 1041.4C475.6 1038.9 481.5 1039.0 488.0 1038.9C494.5 1038.7 498.2 1038.2 503.1 1040.8C508.0 1043.3 510.4 1047.8 512.5 1051.4C514.6 1055.1 514.9 1055.5 513.7 1059.0C512.6 1062.5 511.5 1066.2 506.8 1069.0C502.2 1071.8 496.8 1072.7 490.5 1073.0C484.2 1073.3 479.9 1072.6 475.4 1070.5C470.9 1068.5 470.5 1066.6 467.9 1062.7C465.3 1058.9 461.7 1055.7 462.2 1051.4Z" fill="#000" stroke="#000" stroke-width="2" stroke-linejoin="round" filter="url(#b2)"/>
<path d="M523.2 1057.1C523.4 1053.1 527.2 1048.7 530.7 1045.2C534.2 1041.6 533.7 1040.8 540.8 1039.5C547.8 1038.2 558.6 1038.0 565.9 1038.9C573.2 1039.7 573.7 1040.4 577.2 1043.9C580.7 1047.4 583.2 1051.7 583.5 1056.5C583.7 1061.2 583.2 1064.6 578.4 1067.8C573.7 1071.0 567.6 1071.6 559.6 1072.4C551.6 1073.2 544.3 1073.2 538.2 1071.8C532.2 1070.4 532.5 1068.2 529.4 1065.3C526.4 1062.3 522.9 1061.1 523.2 1057.1Z" fill="#000" stroke="#000" stroke-width="2" stroke-linejoin="round" filter="url(#b2)"/>
</g>
<clipPath id="c5"><rect x="194.6" y="1094.5" width="398.4" height="50.5"/></clipPath>
<g clip-path="url(#c5)"><rect x="194.6" y="1094.5" width="398.4" height="50.5" fill="#d9d9d9"/>
<ellipse cx="224.5" cy="1107.0" rx="21.5" ry="4.5" fill="#2a2a2a" filter="url(#b2)" transform="rotate(7 224.5 1107.0)"/>
<ellipse cx="292.0" cy="1111.5" rx="27.0" ry="6.5" fill="#000" filter="url(#b1)" transform="rotate(3 292.0 1111.5)"/>
<ellipse cx="285.0" cy="1110.75" rx="15.0" ry="4.75" fill="#000" filter="url(#b1)"/>
<ellipse cx="358.5" cy="1115.25" rx="23.5" ry="4.75" fill="#1c1c1c" filter="url(#b2)" transform="rotate(8 358.5 1115.25)"/>
<ellipse cx="424.0" cy="1120.0" rx="25.0" ry="6.0" fill="#000" filter="url(#b1)" transform="rotate(6 424.0 1120.0)"/>
<ellipse cx="491.0" cy="1122.5" rx="27.0" ry="7.5" fill="#000" filter="url(#b1)" transform="rotate(4 491.0 1122.5)"/>
<rect x="470" y="1117" width="40" height="11.5" rx="5.2" ry="5.8" fill="#000" filter="url(#b1)" transform="rotate(4 490.0 1122.75)"/>
<ellipse cx="559.0" cy="1126.25" rx="27.0" ry="6.25" fill="#000" filter="url(#b1)" transform="rotate(4 559.0 1126.25)"/>
<rect x="545" y="1122.5" width="38" height="9.0" rx="4.0" ry="4.5" fill="#000" filter="url(#b1)" transform="rotate(3 564.0 1127.0)"/>
</g>
<clipPath id="c6"><rect x="194.6" y="1165.5" width="398.4" height="44.5"/></clipPath>
<g clip-path="url(#c6)"><rect x="194.6" y="1165.5" width="398.4" height="44.5" fill="#f1f1f1"/>
<rect x="203" y="1170" width="56" height="29" rx="13.1" ry="14.5" fill="#888" filter="url(#b5)"/>
<rect x="265" y="1172" width="59" height="29" rx="13.1" ry="14.5" fill="#888" filter="url(#b5)"/>
<rect x="332" y="1173" width="53" height="26" rx="11.7" ry="13.0" fill="#999" filter="url(#b5)"/>
<rect x="395" y="1172" width="57" height="26" rx="11.7" ry="13.0" fill="#999" filter="url(#b5)"/>
<rect x="460" y="1173" width="58" height="26" rx="11.7" ry="13.0" fill="#aaa" filter="url(#b5)"/>
<rect x="525" y="1172" width="58" height="26" rx="11.7" ry="13.0" fill="#aaa" filter="url(#b5)"/>
<rect x="207.5" y="1174.5" width="47.5" height="14.5" rx="6.5" ry="7.2" fill="#000" filter="url(#b1)"/>
<rect x="269" y="1177" width="51" height="14.5" rx="6.5" ry="7.2" fill="#000" filter="url(#b1)"/>
<rect x="336" y="1178.5" width="45" height="10.5" rx="4.7" ry="5.2" fill="#111" filter="url(#b2)"/>
<rect x="399" y="1177" width="48.5" height="11.75" rx="5.3" ry="5.9" fill="#000" filter="url(#b1)"/>
<rect x="464" y="1178.5" width="50" height="10.25" rx="4.6" ry="5.1" fill="#222" filter="url(#b2)"/>
<rect x="529" y="1178" width="50" height="10" rx="4.5" ry="5.0" fill="#222" filter="url(#b2)"/>
</g>
<text transform="translate(1 1048.75) scale(0.92 1)" class="t" font-size="33" letter-spacing="1.52" text-anchor="start" >Cleaved</text>
<text transform="translate(25.5 1073.75) scale(0.92 1)" class="t" font-size="33" letter-spacing="1.52" text-anchor="start" >Caspase-3</text>
<text transform="translate(1 1138) scale(0.92 1)" class="t" font-size="33" letter-spacing="1.52" text-anchor="start" >Caspase-3</text>
<text transform="translate(1 1203.75) scale(0.92 1)" class="t" font-size="33" letter-spacing="1.52" text-anchor="start" >β-actin</text>
<text transform="translate(210 1006) scale(0.93 1)" class="d" font-size="34.5" letter-spacing="0.00" text-anchor="middle" >1</text>
<text transform="translate(278 1006) scale(0.93 1)" class="d" font-size="34.5" letter-spacing="0.00" text-anchor="middle" >2</text>
<text transform="translate(347 1006) scale(0.93 1)" class="d" font-size="34.5" letter-spacing="0.00" text-anchor="middle" >3</text>
<text transform="translate(416 1006) scale(0.93 1)" class="d" font-size="34.5" letter-spacing="0.00" text-anchor="middle" >4</text>
<text transform="translate(485 1006) scale(0.93 1)" class="d" font-size="34.5" letter-spacing="0.00" text-anchor="middle" >5</text>
<text transform="translate(554 1006) scale(0.93 1)" class="d" font-size="34.5" letter-spacing="0.00" text-anchor="middle" >6</text>
<text x="636" y="1006" class="t" font-size="31" letter-spacing="0"><tspan class="i">M</tspan><tspan font-size="18" dy="5.5" dx="2.5">r</tspan></text>
<text transform="translate(602.5 1060) scale(0.93 1)" class="d" font-size="34.5" letter-spacing="0.48" text-anchor="start" >17  000</text>
<text transform="translate(602.5 1132.5) scale(0.93 1)" class="d" font-size="34.5" letter-spacing="0.48" text-anchor="start" >32  000</text>
<text transform="translate(602.5 1205) scale(0.93 1)" class="d" font-size="34.5" letter-spacing="0.48" text-anchor="start" >42  000</text>
<clipPath id="c7"><rect x="190" y="1759" width="407.4" height="45"/></clipPath>
<linearGradient id="g7" x1="0" x2="1" y1="0" y2="0"><stop offset="0" stop-color="#c9c9c9"/><stop offset="0.3" stop-color="#c2c2c2"/><stop offset="0.36" stop-color="#a8a8a8"/><stop offset="0.5" stop-color="#9a9a9a"/><stop offset="1" stop-color="#a4a4a4"/></linearGradient>
<g clip-path="url(#c7)"><rect x="190" y="1759" width="407.4" height="45" fill="url(#g7)"/>
<rect x="190" y="1792" width="140" height="20" rx="9.0" ry="10.0" fill="#d8d8d8" filter="url(#b5)"/>
<ellipse cx="221.0" cy="1771.5" rx="24.0" ry="8.5" fill="#9c9c9c" filter="url(#b5)"/>
<ellipse cx="289.0" cy="1772.5" rx="29.0" ry="9.0" fill="#9c9c9c" filter="url(#b5)"/>
<rect x="330" y="1750" width="130" height="62" rx="27.9" ry="31.0" fill="#6a6a6a" filter="url(#b5)"/>
<rect x="440" y="1750" width="160" height="50" rx="22.5" ry="25.0" fill="#6a6a6a" filter="url(#b5)"/>
<rect x="520" y="1752" width="76" height="23" rx="10.3" ry="11.5" fill="#444" filter="url(#b5)"/>
<path d="M340.2 1781.4C339.9 1777.1 340.4 1770.2 344.5 1766.3C348.7 1762.4 354.1 1762.4 360.9 1761.9C367.7 1761.4 373.4 1759.9 378.5 1763.8C383.5 1767.7 386.5 1776.1 386.0 1781.4C385.5 1786.7 381.5 1788.2 376.0 1790.2C370.4 1792.2 364.4 1792.0 358.4 1791.5C352.3 1791.0 349.4 1789.7 345.8 1787.7C342.2 1785.7 340.4 1785.7 340.2 1781.4Z" fill="#000" stroke="#000" stroke-width="2" stroke-linejoin="round" filter="url(#b2)"/>
<path d="M395.0 1781.4C396.5 1777.1 400.3 1770.1 406.3 1766.3C412.4 1762.6 417.9 1762.6 425.2 1762.6C432.5 1762.6 436.7 1762.6 442.8 1766.3C448.8 1770.1 455.1 1776.1 455.3 1781.4C455.6 1786.7 449.5 1789.4 444.0 1792.7C438.5 1796.0 434.7 1797.2 427.7 1797.7C420.7 1798.2 414.6 1797.2 408.8 1795.2C403.1 1793.2 401.6 1790.5 398.8 1787.7C396.0 1784.9 393.5 1785.7 395.0 1781.4Z" fill="#000" stroke="#000" stroke-width="2" stroke-linejoin="round" filter="url(#b2)"/>
<path d="M468.5 1782.7C468.8 1778.6 470.5 1771.6 472.9 1767.6C475.3 1763.6 473.9 1763.6 480.5 1762.6C487.0 1761.6 499.0 1761.1 505.6 1762.6C512.1 1764.1 511.1 1765.8 513.1 1770.1C515.1 1774.4 516.1 1779.9 515.6 1783.9C515.1 1787.9 515.6 1788.6 510.6 1790.2C505.6 1791.8 496.5 1791.2 490.5 1792.1C484.5 1793.0 484.2 1795.5 480.5 1794.6C476.7 1793.7 474.0 1790.1 471.7 1787.7C469.3 1785.3 468.3 1786.7 468.5 1782.7Z" fill="#000" stroke="#000" stroke-width="2" stroke-linejoin="round" filter="url(#b2)"/>
<path d="M533.8 1780.2C534.1 1777.1 537.9 1773.6 540.8 1771.4C543.6 1769.1 545.3 1768.8 548.3 1768.8C551.3 1768.8 551.8 1771.4 555.8 1771.4C559.8 1771.4 563.9 1768.6 568.4 1768.8C572.9 1769.1 574.9 1769.8 578.4 1772.6C582.0 1775.4 586.5 1779.4 586.0 1782.7C585.5 1785.9 583.0 1787.2 575.9 1788.9C568.9 1790.7 558.1 1792.0 550.8 1791.5C543.5 1791.0 542.9 1788.7 539.5 1786.4C536.1 1784.2 533.6 1783.2 533.8 1780.2Z" fill="#000" stroke="#000" stroke-width="2" stroke-linejoin="round" filter="url(#b2)"/>
</g>
<clipPath id="c8"><rect x="190" y="1832" width="407.4" height="44.75"/></clipPath>
<linearGradient id="g8" x1="0" x2="1" y1="0" y2="0"><stop offset="0" stop-color="#f3f3f3"/><stop offset="0.5" stop-color="#ededed"/><stop offset="1" stop-color="#e9e9e9"/></linearGradient>
<g clip-path="url(#c8)"><rect x="190" y="1832" width="407.4" height="44.75" fill="url(#g8)"/>
<ellipse cx="226.0" cy="1868.0" rx="28.0" ry="6.5" fill="#000" filter="url(#b1)" transform="rotate(-3 226.0 1868.0)"/>
<rect x="205" y="1863.5" width="45" height="10.0" rx="4.5" ry="5.0" fill="#000" filter="url(#b1)" transform="rotate(-3 227.5 1868.5)"/>
<ellipse cx="291.25" cy="1866.25" rx="29.75" ry="7.25" fill="#000" filter="url(#b1)" transform="rotate(-4 291.25 1866.25)"/>
<rect x="268" y="1861" width="48" height="10.5" rx="4.7" ry="5.2" fill="#000" filter="url(#b1)" transform="rotate(-4 292.0 1866.25)"/>
<ellipse cx="358.5" cy="1860.5" rx="28.5" ry="6.5" fill="#000" filter="url(#b1)" transform="rotate(-8 358.5 1860.5)"/>
<rect x="338" y="1856.5" width="42" height="8.5" rx="3.8" ry="4.2" fill="#000" filter="url(#b1)" transform="rotate(-8 359.0 1860.75)"/>
<ellipse cx="427.0" cy="1856.75" rx="29.0" ry="6.75" fill="#000" filter="url(#b1)" transform="rotate(-3 427.0 1856.75)"/>
<rect x="405" y="1852" width="45" height="10" rx="4.5" ry="5.0" fill="#000" filter="url(#b1)" transform="rotate(-3 427.5 1857.0)"/>
<ellipse cx="491.75" cy="1854.75" rx="30.25" ry="7.25" fill="#000" filter="url(#b1)" transform="rotate(-3 491.75 1854.75)"/>
<rect x="468" y="1850" width="48" height="10.5" rx="4.7" ry="5.2" fill="#000" filter="url(#b1)" transform="rotate(-3 492.0 1855.25)"/>
<ellipse cx="559.25" cy="1851.0" rx="29.25" ry="7.0" fill="#000" filter="url(#b1)"/>
<rect x="536" y="1846" width="46" height="10" rx="4.5" ry="5.0" fill="#000" filter="url(#b1)" transform="rotate(1 559.0 1851.0)"/>
</g>
<clipPath id="c9"><rect x="190" y="1901.25" width="407.4" height="45.0"/></clipPath>
<linearGradient id="g9" x1="0" x2="1" y1="0" y2="0"><stop offset="0" stop-color="#e6e6e6"/><stop offset="0.4" stop-color="#dcdcdc"/><stop offset="1" stop-color="#d6d6d6"/></linearGradient>
<g clip-path="url(#c9)"><rect x="190" y="1901.25" width="407.4" height="45.0" fill="url(#g9)"/>
<rect x="200" y="1908" width="66" height="32" rx="14.4" ry="16.0" fill="#777" filter="url(#b3)"/>
<rect x="267" y="1912" width="64" height="32" rx="14.4" ry="16.0" fill="#777" filter="url(#b3)"/>
<rect x="330" y="1908" width="69" height="33" rx="14.8" ry="16.5" fill="#777" filter="url(#b3)"/>
<rect x="394" y="1905" width="64" height="33" rx="14.8" ry="16.5" fill="#777" filter="url(#b3)"/>
<rect x="456" y="1909" width="63" height="29" rx="13.1" ry="14.5" fill="#777" filter="url(#b3)"/>
<rect x="518" y="1905" width="73" height="30" rx="13.5" ry="15.0" fill="#777" filter="url(#b3)"/>
<rect x="204" y="1914.5" width="60" height="18.0" rx="8.1" ry="9.0" fill="#000" filter="url(#b2)"/>
<rect x="269" y="1918.5" width="60" height="17.5" rx="7.9" ry="8.8" fill="#000" filter="url(#b2)"/>
<rect x="332" y="1913.5" width="64" height="20.25" rx="9.1" ry="10.1" fill="#000" filter="url(#b2)"/>
<rect x="396" y="1911" width="60" height="19" rx="8.6" ry="9.5" fill="#000" filter="url(#b2)"/>
<rect x="457" y="1915" width="60" height="15" rx="6.8" ry="7.5" fill="#000" filter="url(#b2)"/>
<rect x="519" y="1911" width="69.5" height="16.5" rx="7.4" ry="8.2" fill="#000" filter="url(#b2)"/>
</g>
<text transform="translate(2.5 1780.5) scale(0.92 1)" class="t" font-size="33" letter-spacing="1.52" text-anchor="start" >Cleaved</text>
<text transform="translate(27.0 1805.75) scale(0.92 1)" class="t" font-size="33" letter-spacing="1.52" text-anchor="start" >Caspase-3</text>
<text transform="translate(2.5 1870) scale(0.92 1)" class="t" font-size="33" letter-spacing="1.52" text-anchor="start" >Caspase-3</text>
<text transform="translate(2.5 1936) scale(0.92 1)" class="t" font-size="33" letter-spacing="1.52" text-anchor="start" >β-actin</text>
<text transform="translate(211.5 1738) scale(0.93 1)" class="d" font-size="34.5" letter-spacing="0.00" text-anchor="middle" >1</text>
<text transform="translate(280 1738) scale(0.93 1)" class="d" font-size="34.5" letter-spacing="0.00" text-anchor="middle" >2</text>
<text transform="translate(349 1738) scale(0.93 1)" class="d" font-size="34.5" letter-spacing="0.00" text-anchor="middle" >3</text>
<text transform="translate(417 1738) scale(0.93 1)" class="d" font-size="34.5" letter-spacing="0.00" text-anchor="middle" >4</text>
<text transform="translate(487 1738) scale(0.93 1)" class="d" font-size="34.5" letter-spacing="0.00" text-anchor="middle" >5</text>
<text transform="translate(555 1738) scale(0.93 1)" class="d" font-size="34.5" letter-spacing="0.00" text-anchor="middle" >6</text>
<text x="643.5" y="1738" class="t" font-size="31" letter-spacing="0"><tspan class="i">M</tspan><tspan font-size="18" dy="5.5" dx="2.5">r</tspan></text>
<text transform="translate(610.0 1792) scale(0.93 1)" class="d" font-size="34.5" letter-spacing="0.48" text-anchor="start" >17  000</text>
<text transform="translate(610.0 1864.5) scale(0.93 1)" class="d" font-size="34.5" letter-spacing="0.48" text-anchor="start" >32  000</text>
<text transform="translate(610.0 1937.5) scale(0.93 1)" class="d" font-size="34.5" letter-spacing="0.48" text-anchor="start" >42  000</text>
<text transform="translate(381.7 656.8) scale(1 1)" class="t" font-size="31" letter-spacing="0.00" text-anchor="middle" >A</text>
<text transform="translate(1290 656.8) scale(1 1)" class="t" font-size="31" letter-spacing="0.00" text-anchor="middle" >B</text>
<text transform="translate(381.7 1334) scale(1 1)" class="t" font-size="31" letter-spacing="0.00" text-anchor="middle" >C</text>
<text transform="translate(1290 1334) scale(1 1)" class="t" font-size="31" letter-spacing="0.00" text-anchor="middle" >D</text>
<text transform="translate(383 2047) scale(1 1)" class="t" font-size="31" letter-spacing="0.00" text-anchor="middle" >E</text>
<text transform="translate(1291 2047) scale(1 1)" class="t" font-size="31" letter-spacing="0.00" text-anchor="middle" >F</text>
</svg></body></html>
